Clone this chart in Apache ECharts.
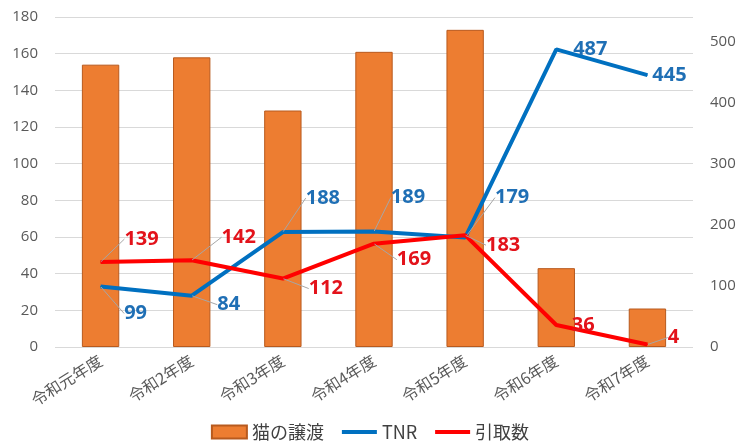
<!DOCTYPE html>
<html><head><meta charset="utf-8">
<script src="https://cdn.jsdelivr.net/npm/echarts@6/dist/echarts.min.js"></script>
<style>html,body{margin:0;padding:0;background:#fff}#c{width:740px;height:447px}</style>
</head><body><div id="c"></div>
<script>
const categories = ['令和元年度','令和2年度','令和3年度','令和4年度','令和5年度','令和6年度','令和7年度'];
const catAdoption = [154, 158, 129, 161, 173, 43, 21];
const tnr = [99, 84, 188, 189, 179, 487, 445];
const intake = [139, 142, 112, 169, 183, 36, 4];
const leftTicks = [0, 180, 20];
const rightTicks = [0, 540, 100];

// label offsets (px) from point, per data index
const tnrOffsets = [[35,27],[37,9],[40,-34],[34,-34],[47,-40],[34,0],[22,0]];
const intakeOffsets = [[41,-23],[47,-23],[43,10],[40,16],[38,10],[27,0],[26,-7]];
const tnrLine = [true,true,true,true,true,false,false];
const intakeLine = [true,true,true,true,true,false,true];

const chart = echarts.init(document.getElementById('c'), null, {renderer:'canvas'});
const FONT = '"Noto Sans CJK JP","Noto Sans",sans-serif';
function layoutFrom(offs){
  return function(p){ const o = offs[p.dataIndex]; return {dx:o[0], dy:o[1]}; };
}
chart.setOption({
  animation:false,
  textStyle:{fontFamily:FONT},
  grid:{left:55, right:47, top:17, bottom:100},
  legend:{
    bottom:1, left:'center', itemGap:18, itemWidth:35, itemHeight:13,
    textStyle:{fontSize:18, color:'#404040', fontFamily:FONT},
    data:[
      {name:'猫の譲渡', icon:'rect'},
      {name:'TNR', icon:'path://M0,0 L36,0 L36,4 L0,4 Z', itemStyle:{color:'#0070C0'}},
      {name:'引取数', icon:'path://M0,0 L36,0 L36,4 L0,4 Z', itemStyle:{color:'#FF0000'}}
    ]
  },
  xAxis:{
    type:'category', data:categories,
    axisLine:{show:false}, axisTick:{show:false},
    axisLabel:{rotate:32, fontSize:16, color:'#595959', margin:12, interval:0, fontFamily:FONT}
  },
  yAxis:[
    {type:'value', min:leftTicks[0], max:leftTicks[1], interval:leftTicks[2],
     axisLine:{show:false}, axisTick:{show:false},
     axisLabel:{fontSize:15, color:'#595959', margin:17, fontFamily:'"Open Sans","Noto Sans",sans-serif'},
     splitLine:{lineStyle:{color:'#D9D9D9', width:1}}},
    {type:'value', min:rightTicks[0], max:rightTicks[1], interval:rightTicks[2],
     axisLine:{show:false}, axisTick:{show:false},
     axisLabel:{fontSize:15, color:'#595959', margin:17, showMaxLabel:false, fontFamily:'"Open Sans","Noto Sans",sans-serif'},
     splitLine:{show:false}}
  ],
  series:[
    {name:'猫の譲渡', type:'bar', data:catAdoption, yAxisIndex:0, barWidth:'41%',
     itemStyle:{color:'#ED7D31', borderColor:'#B85A1E', borderWidth:1}, z:1},
    {name:'TNR', type:'line', data:tnr.map((v,i)=>({value:v, labelLine:{show:tnrLine[i]}})), yAxisIndex:1,
     symbol:'circle', symbolSize:1, showSymbol:true,
     lineStyle:{color:'#0070C0', width:4}, itemStyle:{color:'#0070C0'},
     label:{show:true, position:'inside', fontSize:20, fontWeight:'bold', color:'#1F6FB5', fontFamily:'"Open Sans","Noto Sans",sans-serif'},
     labelLine:{show:true, lineStyle:{color:'#A6A6A6', width:1}},
     labelLayout:layoutFrom(tnrOffsets), z:3},
    {name:'引取数', type:'line', data:intake.map((v,i)=>({value:v, labelLine:{show:intakeLine[i]}})), yAxisIndex:1,
     symbol:'circle', symbolSize:1, showSymbol:true,
     lineStyle:{color:'#FF0000', width:4}, itemStyle:{color:'#FF0000'},
     label:{show:true, position:'inside', fontSize:20, fontWeight:'bold', color:'#E3131B', fontFamily:'"Open Sans","Noto Sans",sans-serif'},
     labelLine:{show:true, lineStyle:{color:'#A6A6A6', width:1}},
     labelLayout:layoutFrom(intakeOffsets), z:4}
  ]
});
</script></body></html>
